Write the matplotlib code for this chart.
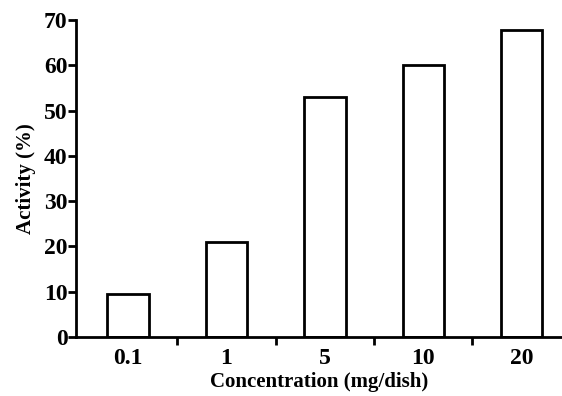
import matplotlib
matplotlib.use("Agg")
import matplotlib.pyplot as plt
import numpy as np

categories = ["0.1", "1", "5", "10", "20"]
activity = [9.4, 21.0, 53.0, 60.2, 67.9]

plt.rcParams["font.family"] = ["Liberation Serif", "DejaVu Serif"]
plt.rcParams["font.weight"] = "bold"

fig = plt.figure(figsize=(5.62, 3.96), dpi=100)
ax = fig.add_axes([0.135, 0.149, 0.865, 0.8])

x = np.arange(len(categories))
ax.bar(x, activity, width=0.42, color="white", edgecolor="black", linewidth=2.0)

ax.set_xlim(-0.53, 4.41)
ax.set_ylim(0, 70)
ax.set_yticks(np.arange(0, 71, 10))
ax.set_xticks(x)
ax.set_xticklabels(categories)
ax.set_xticks(x[:-1] + 0.5, minor=True)
ax.tick_params(axis="x", which="major", length=0, labelsize=17, pad=8)
ax.tick_params(axis="x", which="minor", length=6, width=2, direction="out")
ax.tick_params(axis="y", length=6, width=2, direction="out", labelsize=17, pad=0)

for side in ("top", "right"):
    ax.spines[side].set_visible(False)
for side in ("left", "bottom"):
    ax.spines[side].set_linewidth(2.0)

ax.set_xlabel("Concentration (mg/dish)", fontsize=15, fontweight="bold", labelpad=2)
ax.set_ylabel("Activity (%)", fontsize=15, fontweight="bold", labelpad=6)

fig.savefig("out.png", dpi=100)
